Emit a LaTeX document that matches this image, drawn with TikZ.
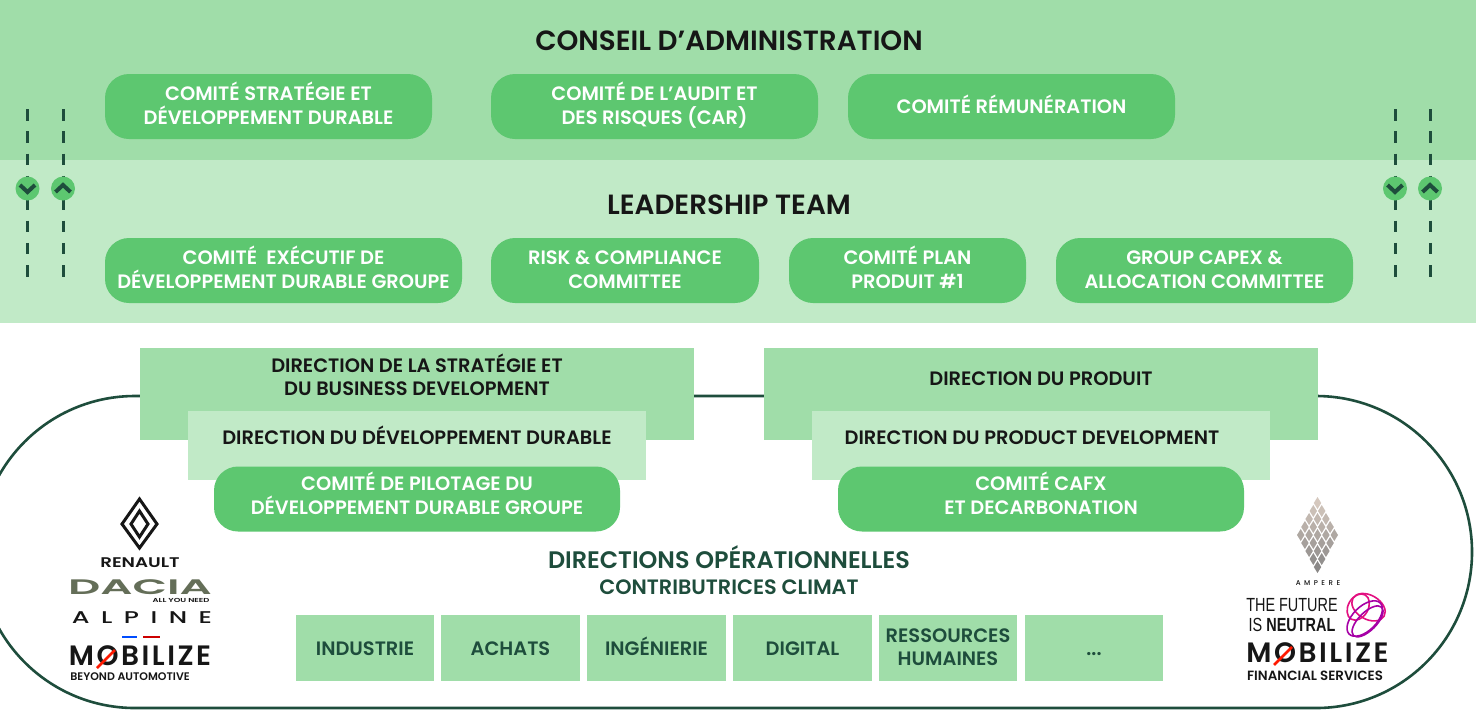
\documentclass[tikz,border=0pt]{standalone}
\usepackage{fontspec}
\setmainfont{Poppins Medium}
\newfontfamily\titrefont{Poppins}[UprightFont=* SemiBold]
\newfontfamily\logofont{Poppins}[UprightFont=* SemiBold]
\newfontfamily\etroitefont{Liberation Sans}
\usetikzlibrary{calc}
\definecolor{bandhaut}{HTML}{A0DDA9}
\definecolor{bandbas}{HTML}{C1EAC7}
\definecolor{vert}{HTML}{5DC770}
\definecolor{sombre}{HTML}{1E4D3C}
\definecolor{encre}{HTML}{161616}
\definecolor{kaki}{HTML}{646E58}
\definecolor{beige}{HTML}{D5C8BE}
\newcommand{\uneligne}[1]{\rule{0pt}{13pt}#1\rule[-6pt]{0pt}{6pt}}
\newcommand{\deuxlignes}[2]{\rule{0pt}{13pt}#1\\#2\rule[-7pt]{0pt}{7pt}}
\tikzset{
    texte/.style={inner sep=0pt,align=center,font=\titrefont\fontsize{9.7pt}{11.7pt}\selectfont},
    comite/.style={texte,fill=vert,rounded corners=12pt,minimum height=32.5pt,text=white},
    fond/.style={fill=vert,rounded corners=12pt,minimum height=32.5pt,inner sep=0pt},
    direction/.style={texte,text=encre},
    dirhaut/.style={fill=bandhaut,minimum height=46pt,minimum width=277pt},
    dirbas/.style={fill=bandbas,minimum height=34.5pt,minimum width=229pt},
    metier/.style={texte,fill=bandhaut,minimum height=33pt,minimum width=69.3pt,text=sombre},
    titre/.style={text=encre,inner sep=0pt,text height=13pt,text depth=3.4pt,font=\titrefont\fontsize{13.9pt}{15pt}\selectfont},
    pointille/.style={sombre,line width=1.5pt,dash pattern=on 5.75pt off 5.4pt},
    rond/.style={circle,fill=vert,minimum size=12pt,inner sep=0pt},
    chevron/.style={sombre,line width=2pt},
    logo/.style={inner sep=0pt,text=encre}
}
\begin{document}
\begin{tikzpicture}[x=0.5pt,y=-0.5pt]
    \useasboundingbox (0,0) rectangle (1476,709);
    % bandeaux
    \fill[white] (0,0) rectangle (1476,709);
    \fill[bandhaut] (0,0) rectangle (1476,160);
    \fill[bandbas] (0,160) rectangle (1476,323);
    % contour
    \draw[sombre,line width=1.3pt] (135,396) -- (1316,396) arc (90:-90:78pt) -- (135,708) arc (270:90:78pt);
    % conseil
    \node[titre] (conseil) at (729,41) {CONSEIL D’ADMINISTRATION};
    \node[comite,minimum width=163.5pt] (c1) at (268.5,106.5) {\deuxlignes{COMITÉ STRATÉGIE ET}{DÉVELOPPEMENT DURABLE}};
    \node[comite,minimum width=163.5pt] (c2) at (654.5,106.5) {\deuxlignes{COMITÉ DE L’AUDIT ET}{DES RISQUES (CAR)}};
    \node[comite,minimum width=163.5pt] (c3) at (1011.5,106.5) {\uneligne{COMITÉ RÉMUNÉRATION}};
    % leadership
    \node[titre] (leader) at (729,205) {LEADERSHIP TEAM};
    \node[comite,minimum width=178.5pt] (l1) at (283.5,270.5) {\deuxlignes{COMITÉ~ EXÉCUTIF DE}{DÉVELOPPEMENT DURABLE GROUPE}};
    \node[comite,minimum width=134pt] (l2) at (625,270.5) {\deuxlignes{RISK \& COMPLIANCE}{COMMITTEE}};
    \node[comite,minimum width=118.5pt] (l3) at (907.5,270.5) {\deuxlignes{COMITÉ PLAN}{PRODUIT \#1}};
    \node[comite,minimum width=148.5pt] (l4) at (1204.5,270.5) {\deuxlignes{GROUP CAPEX \&}{ALLOCATION COMMITTEE}};
    % va-et-vient
    \foreach \xa/\nom/\sens in {27.5/a/1,63/b/-1,1395/c/1,1430/d/-1} {
        \coordinate (h\nom) at (\xa,109);
        \coordinate (f\nom) at (\xa,278);
        \draw[pointille] (h\nom) -- (f\nom);
        \node[rond] (r\nom) at (\xa,188.5) {};
        \draw[chevron] ($(r\nom)+(-7.5,-3.5*\sens)$) -- ($(r\nom)+(0,3.5*\sens)$) -- ($(r\nom)+(7.5,-3.5*\sens)$);
    }
    % directions gauche
    \node[dirhaut] (d1) at (417,394) {};
    \node[direction] (d1t) at (417,378) {\deuxlignes{DIRECTION DE LA STRATÉGIE ET}{DU BUSINESS DEVELOPMENT}};
    \node[dirbas] (d2) at (417,445.5) {};
    \node[direction] (d2t) at (417,437) {\uneligne{DIRECTION DU DÉVELOPPEMENT DURABLE}};
    \node[fond,minimum width=203pt] (d3) at (417,499) {};
    \node[direction,text=white] (d3t) at (417,496.5) {\deuxlignes{COMITÉ DE PILOTAGE DU}{DÉVELOPPEMENT DURABLE GROUPE}};
    % directions droite
    \node[dirhaut] (p1) at (1041,394) {};
    \node[direction] (p1t) at (1041,378) {\uneligne{DIRECTION DU PRODUIT}};
    \node[dirbas] (p2) at (1041,445.5) {};
    \node[direction] (p2t) at (1032,437) {\uneligne{DIRECTION DU PRODUCT DEVELOPMENT}};
    \node[fond,minimum width=203pt] (p3) at (1041,499) {};
    \node[direction,text=white] (p3t) at (1041,496.5) {\deuxlignes{COMITÉ CAFX}{ET DECARBONATION}};
    % operationnelles
    \node[titre,text=sombre,font=\titrefont\fontsize{11.95pt}{13pt}\selectfont] (ops) at (729,559) {DIRECTIONS OPÉRATIONNELLES};
    \node[titre,text=sombre,font=\titrefont\fontsize{10.4pt}{12pt}\selectfont] (clim) at (729,585) {CONTRIBUTRICES CLIMAT};
    \node[metier] (m1) at (365,648) {\uneligne{INDUSTRIE}};
    \node[metier] (m2) at (510.5,648) {\uneligne{ACHATS}};
    \node[metier] (m3) at (656.5,648) {\uneligne{INGÉNIERIE}};
    \node[metier] (m4) at (802.5,648) {\uneligne{DIGITAL}};
    \node[metier] (m5) at (948,648) {\deuxlignes{RESSOURCES}{HUMAINES}};
    \node[metier] (m6) at (1094,648) {\uneligne{...}};
    % logos gauche
    \draw[encre,line width=1.5pt] (139.5,499) -- (122,524) -- (139.5,548) -- (157,524) -- cycle;
    \draw[encre,line width=1.5pt] (139.5,511) -- (131,524) -- (139.5,537) -- (148,524) -- cycle;
    \node[logo,font=\logofont\fontsize{7pt}{7pt}\selectfont,xscale=1.3] (renault) at (140,563) {RENAULT};
    \node[logo,text=kaki,text depth=0pt,font=\logofont\fontsize{10.5pt}{11pt}\selectfont,xscale=2.14] (dacia) at (140,587) {DACIA};
    \node[logo,font=\logofont\fontsize{2.9pt}{3pt}\selectfont,anchor=east,xscale=1.45] (allyou) at (210,600.5) {ALL YOU NEED};
    \node[logo,font=\fontsize{8.5pt}{9pt}\addfontfeature{LetterSpace=45}\selectfont,xscale=1.5] (alpine) at (142,618) {ALPINE};
    \draw[blue!70!cyan,line width=1pt] (122,636.5) -- (137,636.5);
    \draw[red!80!black,line width=1pt] (143,636.5) -- (160,636.5);
    \node[logo,text depth=0pt,font=\logofont\fontsize{14pt}{14pt}\addfontfeature{LetterSpace=9}\selectfont] (mobi) at (140,656) {MOBILIZE};
    \draw[red!80!orange,line width=1.3pt] (97,668) -- (115,650);
    \node[logo,font=\logofont\fontsize{5.5pt}{6pt}\selectfont,anchor=west] (beyond) at (70,677) {BEYOND AUTOMOTIVE};
    % logos droite
    \foreach \rang/\nb in {0/1,1/2,2/3,3/4,4/5,5/4,6/3,7/2,8/1} {
        \pgfmathsetmacro\melange{100-\rang*11}
        \foreach \i in {1,...,\nb} {
            \fill[beige!\melange!gray] ({1317.5+(\i-(\nb+1)/2)*8.4-3.7},{503+\rang*8}) -- ++(3.7,-6) -- ++(3.7,6) -- ++(-3.7,6) -- cycle;
        }
    }
    \node[logo,font=\fontsize{3.5pt}{4pt}\addfontfeature{LetterSpace=50}\selectfont] (ampere) at (1318,583) {AMPERE};
    \node[logo,font=\etroitefont\fontsize{9.5pt}{10pt}\selectfont,align=center,xscale=.76] (neutral) at (1292,615) {THE FUTURE\\IS \textbf{NEUTRAL}};
    \draw[magenta!80!purple,line width=.8pt,rotate around={-30:(1364,615)}] (1364,606) ellipse (9pt and 6pt);
    \draw[magenta!80!purple,line width=.8pt,rotate around={60:(1364,615)}] (1368,606) ellipse (7pt and 5pt);
    \draw[violet!70!magenta,line width=.8pt,rotate around={45:(1364,615)}] (1362,618) ellipse (11pt and 6pt);
    \draw[violet!70!magenta,line width=.8pt,rotate around={45:(1364,615)}] (1362,622) ellipse (10pt and 4.5pt);
    \node[logo,text depth=0pt,font=\logofont\fontsize{14pt}{14pt}\addfontfeature{LetterSpace=9}\selectfont] (mobifs) at (1317.5,653) {MOBILIZE};
    \draw[red!80!orange,line width=1.3pt] (1274,665) -- (1292,647);
    \node[logo,font=\logofont\fontsize{6.7pt}{7pt}\selectfont] (fs) at (1315,676) {FINANCIAL SERVICES};
\end{tikzpicture}
\end{document}
